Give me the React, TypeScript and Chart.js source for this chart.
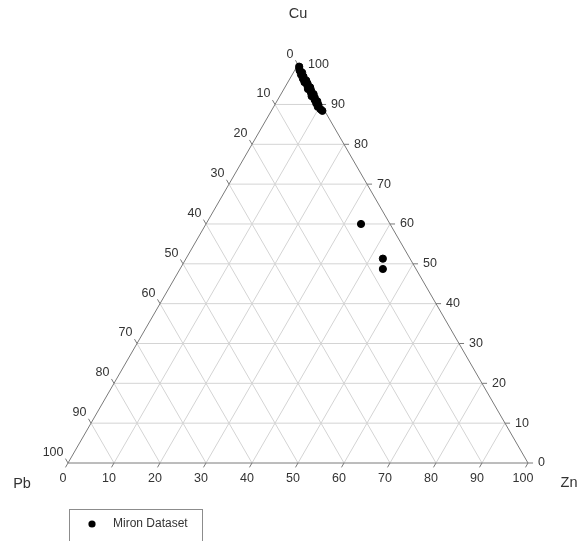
import React, { useEffect, useRef } from "react";
import { Chart, registerables } from "chart.js";

Chart.register(...registerables);

// ---- data ----
const AXIS_TICKS = [0, 10, 20, 30, 40, 50, 60, 70, 80, 90, 100];
const GRID_LEVELS = [10, 20, 30, 40, 50, 60, 70, 80, 90];
const SERIES_NAME = "Miron Dataset";
const TITLE_TOP = "Cu";
const TITLE_LEFT = "Pb";
const TITLE_RIGHT = "Zn";

const cuValues = [
  99.5, 99.0, 98.5, 98.0, 97.5, 97.0, 96.5, 96.0, 95.6, 95.2, 94.8, 94.3, 93.9,
  93.5, 93.0, 92.6, 92.1, 91.7, 91.2, 90.8, 90.3, 89.9, 89.4, 88.8, 88.4,
  60.0, 51.3, 48.7,
];
const znValues = [
  0.5, 0.8, 1.1, 1.9, 1.9, 2.7, 2.8, 3.8, 3.6, 4.5, 4.6, 5.5, 5.2,
  6.1, 6.3, 7.1, 6.9, 7.8, 8.0, 8.8, 8.8, 9.5, 9.6, 10.5, 11.1,
  33.7, 42.8, 44.1,
];
const pbValues = [
  0.0, 0.2, 0.4, 0.1, 0.6, 0.3, 0.7, 0.2, 0.8, 0.3, 0.6, 0.2, 0.9,
  0.4, 0.7, 0.3, 1.0, 0.5, 0.8, 0.4, 0.9, 0.6, 1.0, 0.7, 0.5,
  6.3, 5.9, 7.2,
];

// ---- helpers ----
const H = Math.sqrt(3) / 2;
function tern(cu: number, zn: number) {
  return { x: zn + cu / 2, y: cu * H };
}

const W = 580;
const HT = 541;
const PX_PER_UNIT = 4.6;
const ORIGIN_X = 68;
const ORIGIN_Y = 463;
const X_MIN = -ORIGIN_X / PX_PER_UNIT;
const X_MAX = X_MIN + W / PX_PER_UNIT;
const Y_MAX = ORIGIN_Y / PX_PER_UNIT;
const Y_MIN = Y_MAX - HT / PX_PER_UNIT;

const GRID_COLOR = "#d4d4d4";
const EDGE_COLOR = "#7a7a7a";
const TEXT_COLOR = "#333333";
const TICK_LEN = 1.1;

function lineDs(points: { x: number; y: number }[], color: string, order: number) {
  return {
    type: "line" as const,
    data: points,
    borderColor: color,
    borderWidth: 1,
    pointRadius: 0,
    pointHoverRadius: 0,
    showLine: true,
    fill: false,
    tension: 0,
    order,
  };
}

function buildDatasets() {
  const ds: any[] = [];
  GRID_LEVELS.forEach((v) => {
    ds.push(lineDs([tern(v, 0), tern(v, 100 - v)], GRID_COLOR, 3));
    ds.push(lineDs([tern(0, v), tern(100 - v, v)], GRID_COLOR, 3));
    ds.push(lineDs([tern(0, 100 - v), tern(100 - v, 0)], GRID_COLOR, 3));
  });
  ds.push(
    lineDs([tern(0, 0), tern(0, 100), tern(100, 0), tern(0, 0)], EDGE_COLOR, 2)
  );
  AXIS_TICKS.forEach((v) => {
    ds.push(
      lineDs([tern(100 - v, 0), tern(100 - v + TICK_LEN, -TICK_LEN)], EDGE_COLOR, 2)
    );
    ds.push(lineDs([tern(v, 100 - v), tern(v, 100 - v + TICK_LEN)], EDGE_COLOR, 2));
    ds.push(lineDs([tern(0, v), tern(-TICK_LEN, v)], EDGE_COLOR, 2));
  });
  ds.push({
    type: "scatter" as const,
    label: SERIES_NAME,
    data: cuValues.map((cu, i) => tern(cu, znValues[i])),
    backgroundColor: "#000000",
    borderColor: "#000000",
    pointRadius: 3.6,
    pointHoverRadius: 3.6,
    showLine: false,
    order: 0,
  });
  return ds;
}

const FONT = '"Liberation Sans", Arial, sans-serif';

const labelPlugin = {
  id: "ternaryLabels",
  afterDatasetsDraw(chart: any) {
    const { ctx } = chart;
    const xs = chart.scales.x;
    const ys = chart.scales.y;
    const P = (p: { x: number; y: number }) => [
      xs.getPixelForValue(p.x),
      ys.getPixelForValue(p.y),
    ];
    ctx.save();
    ctx.fillStyle = TEXT_COLOR;
    ctx.font = `12.5px ${FONT}`;
    AXIS_TICKS.forEach((v) => {
      let [px, py] = P(tern(100 - v, 0));
      ctx.textAlign = "right";
      ctx.textBaseline = "middle";
      ctx.fillText(String(v), px - 4.5, py - 10.5);
      [px, py] = P(tern(v, 100 - v));
      ctx.textAlign = "left";
      ctx.fillText(String(v), px + 10, py);
      [px, py] = P(tern(0, v));
      ctx.textAlign = "center";
      ctx.fillText(String(v), px - 5, py + 16);
    });
    ctx.font = `14.5px ${FONT}`;
    ctx.textAlign = "center";
    ctx.textBaseline = "middle";
    let [tx, ty] = P(tern(100, 0));
    ctx.fillText(TITLE_TOP, tx, ty - 51);
    [tx, ty] = P(tern(0, 0));
    ctx.fillText(TITLE_LEFT, tx - 46, ty + 21);
    [tx, ty] = P(tern(0, 100));
    ctx.fillText(TITLE_RIGHT, tx + 41, ty + 20);

    ctx.strokeStyle = "#8c8c8c";
    ctx.lineWidth = 1;
    ctx.strokeRect(69.5, 509.5, 133, 40);
    ctx.fillStyle = "#000000";
    ctx.beginPath();
    ctx.arc(92, 524, 3.6, 0, Math.PI * 2);
    ctx.fill();
    ctx.fillStyle = TEXT_COLOR;
    ctx.font = `12px ${FONT}`;
    ctx.textAlign = "left";
    ctx.fillText(SERIES_NAME, 113, 524);
    ctx.restore();
  },
};

export default function App() {
  const ref = useRef<HTMLCanvasElement | null>(null);
  useEffect(() => {
    if (!ref.current) return;
    const chart = new Chart(ref.current, {
      type: "scatter",
      data: { datasets: buildDatasets() },
      options: {
        animation: false,
        responsive: false,
        devicePixelRatio: 1,
        events: [],
        layout: { padding: 0, autoPadding: false },
        plugins: {
          legend: { display: false },
          tooltip: { enabled: false },
          title: { display: false },
        },
        scales: {
          x: { type: "linear", display: false, min: X_MIN, max: X_MAX },
          y: { type: "linear", display: false, min: Y_MIN, max: Y_MAX },
        },
      },
      plugins: [labelPlugin],
    });
    return () => chart.destroy();
  }, []);
  return (
    <div style={{ position: "fixed", left: 0, top: 0, width: W, height: HT, background: "#fff" }}>
      <canvas ref={ref} width={W} height={HT} style={{ display: "block" }} />
    </div>
  );
}
